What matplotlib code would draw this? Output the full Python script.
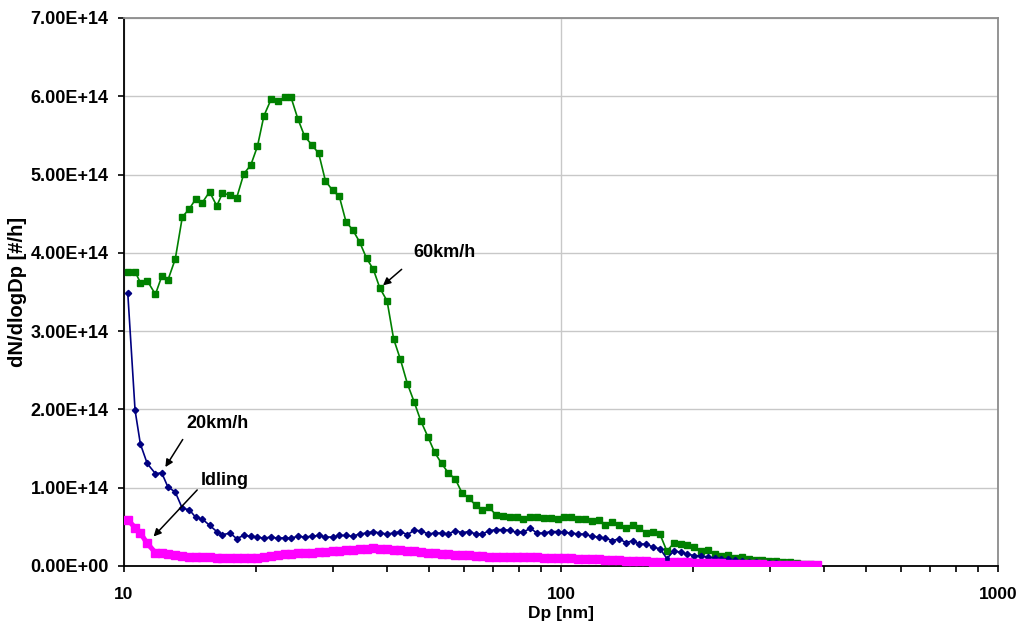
import numpy as np
import matplotlib
matplotlib.use('Agg')
from matplotlib import pyplot as plt
from matplotlib.ticker import FuncFormatter, LogLocator, NullFormatter, FixedLocator

# SMPS channel midpoints, 64 channels per decade [nm]
dp = [10.2, 10.6, 10.9, 11.3, 11.8, 12.2, 12.6, 13.1, 13.6, 14.1,
      14.6, 15.1, 15.7, 16.3, 16.8, 17.5, 18.1, 18.8, 19.5, 20.2,
      20.9, 21.7, 22.5, 23.3, 24.1, 25.0, 25.9, 26.9, 27.9, 28.9,
      30.0, 31.1, 32.2, 33.4, 34.6, 35.9, 37.2, 38.5, 40.0, 41.4,
      42.9, 44.5, 46.1, 47.8, 49.6, 51.4, 53.3, 55.2, 57.3, 59.4,
      61.5, 63.8, 66.1, 68.5, 71.0, 73.7, 76.4, 79.1, 82.0, 85.1,
      88.2, 91.4, 94.7, 98.2, 101.8, 105.5, 109.4, 113.4, 117.6, 121.9,
      126.3, 131.0, 135.8, 140.7, 145.9, 151.2, 156.8, 162.5, 168.5, 174.7,
      181.1, 187.7, 194.6, 201.7, 209.1, 216.7, 224.7, 232.9, 241.4, 250.3,
      259.5, 269.0, 278.8, 289.0, 299.6, 310.6, 322.0, 333.8, 346.0, 358.7,
      371.8, 385.4]

# dN/dlogDp in units of 1e14 #/h
v60 = [3.76, 3.76, 3.62, 3.645, 3.47, 3.70, 3.65, 3.92, 4.46, 4.56,
       4.69, 4.64, 4.78, 4.60, 4.76, 4.74, 4.70, 5.01, 5.12, 5.36,
       5.75, 5.96, 5.94, 5.99, 5.99, 5.71, 5.49, 5.38, 5.27, 4.92,
       4.80, 4.72, 4.40, 4.29, 4.14, 3.93, 3.79, 3.55, 3.385, 2.90,
       2.64, 2.33, 2.10, 1.85, 1.65, 1.45, 1.31, 1.19, 1.11, 0.93,
       0.87, 0.775, 0.715, 0.75, 0.65, 0.64, 0.62, 0.63, 0.60, 0.63,
       0.63, 0.61, 0.61, 0.60, 0.63, 0.63, 0.60, 0.60, 0.575, 0.59,
       0.53, 0.56, 0.53, 0.49, 0.53, 0.48, 0.425, 0.44, 0.405, 0.19,
       0.29, 0.285, 0.265, 0.24, 0.195, 0.20, 0.15, 0.13, 0.14, 0.10,
       0.115, 0.09, 0.08, 0.077, 0.068, 0.06, 0.055, 0.045, 0.035, 0.025,
       0.02, 0.015]

v20 = [3.49, 1.99, 1.56, 1.31, 1.18, 1.19, 1.01, 0.945, 0.735, 0.72,
       0.62, 0.60, 0.52, 0.44, 0.40, 0.42, 0.35, 0.39, 0.38, 0.37,
       0.355, 0.37, 0.355, 0.36, 0.355, 0.38, 0.37, 0.38, 0.39, 0.37,
       0.37, 0.39, 0.39, 0.38, 0.41, 0.42, 0.44, 0.42, 0.41, 0.42,
       0.44, 0.40, 0.455, 0.45, 0.41, 0.42, 0.42, 0.41, 0.45, 0.425,
       0.44, 0.41, 0.41, 0.45, 0.465, 0.465, 0.455, 0.43, 0.435, 0.48,
       0.42, 0.42, 0.44, 0.44, 0.43, 0.42, 0.41, 0.405, 0.38, 0.37,
       0.355, 0.325, 0.345, 0.30, 0.32, 0.28, 0.28, 0.24, 0.22, 0.095,
       0.19, 0.178, 0.152, 0.133, 0.13, 0.115, 0.10, 0.093, 0.09, 0.073,
       0.065, 0.057, 0.05, 0.043, 0.037, 0.032, 0.027, 0.022, 0.018, 0.014,
       0.011, 0.008]

vidle = [0.59, 0.49, 0.42, 0.29, 0.17, 0.16, 0.15, 0.14, 0.13, 0.12,
         0.115, 0.11, 0.11, 0.105, 0.10, 0.10, 0.097, 0.10, 0.10, 0.105,
         0.115, 0.125, 0.14, 0.15, 0.155, 0.16, 0.165, 0.17, 0.18, 0.185,
         0.19, 0.195, 0.20, 0.21, 0.215, 0.22, 0.225, 0.22, 0.215, 0.21,
         0.20, 0.195, 0.19, 0.18, 0.17, 0.165, 0.155, 0.15, 0.145, 0.14,
         0.135, 0.13, 0.125, 0.12, 0.12, 0.115, 0.115, 0.11, 0.11, 0.11,
         0.11, 0.105, 0.105, 0.10, 0.10, 0.10, 0.095, 0.09, 0.09, 0.085,
         0.08, 0.08, 0.075, 0.07, 0.07, 0.065, 0.06, 0.055, 0.05, 0.015,
         0.05, 0.045, 0.045, 0.04, 0.04, 0.038, 0.035, 0.033, 0.03, 0.028,
         0.026, 0.024, 0.022, 0.02, 0.018, 0.016, 0.015, 0.014, 0.012, 0.011,
         0.01, 0.01]

scale = 1e14
dp = np.array(dp)
y60 = np.array(v60) * scale
y20 = np.array(v20) * scale
yidle = np.array(vidle) * scale

FONT = 'Liberation Sans'

fig = plt.figure(figsize=(10.17, 6.21), dpi=100)
ax = fig.add_axes([124 / 1017, 55 / 621, 874 / 1017, 548 / 621])

ax.plot(dp, y60, color='#008000', lw=1.2, marker='s', ms=4.3, zorder=3)
ax.plot(dp, y20, color='#000080', lw=1.2, marker='D', ms=3.2, zorder=4)
ax.plot(dp, yidle, color='#FF00FF', lw=3.6, marker='s', ms=5.8, zorder=5)

ax.set_xscale('log')
ax.set_xlim(10, 1000)
ax.set_ylim(0, 7e14)
ax.set_yticks(np.arange(0, 7.01e14, 1e14))
ax.yaxis.set_major_formatter(FuncFormatter(lambda v, p: '%.2E' % v))
ax.xaxis.set_major_locator(FixedLocator([10, 100, 1000]))
ax.xaxis.set_major_formatter(FuncFormatter(lambda v, p: '%d' % v))
ax.xaxis.set_minor_locator(LogLocator(base=10, subs=np.arange(2, 10)))
ax.xaxis.set_minor_formatter(NullFormatter())

ax.grid(axis='y', color='#c8c8c8', lw=1)
ax.grid(axis='x', which='major', color='#c8c8c8', lw=1)
ax.set_axisbelow(True)

for s in ['left', 'bottom']:
    ax.spines[s].set_color('black')
    ax.spines[s].set_linewidth(1.3)
for s in ['top', 'right']:
    ax.spines[s].set_color('#8c8c8c')
    ax.spines[s].set_linewidth(1.3)

ax.tick_params(axis='x', which='both', direction='out', length=4, width=1.2,
               pad=11)
ax.tick_params(axis='y', direction='out', length=4, width=1.2, pad=7)
for lab in ax.get_xticklabels():
    lab.set_fontfamily(FONT)
    lab.set_fontweight('bold')
    lab.set_fontsize(12.5)
for lab in ax.get_yticklabels():
    lab.set_fontfamily(FONT)
    lab.set_fontweight('bold')
    lab.set_fontsize(13)

ax.set_xlabel('Dp [nm]', family=FONT, weight='bold', fontsize=12.5, va='center')
ax.xaxis.set_label_coords(0.5, -0.086)
ax.set_ylabel('dN/dlogDp [#/h]', family=FONT, weight='bold', fontsize=14.5,
              va='center')
ax.yaxis.set_label_coords(-0.1224, 0.5)

# labelled arrows pointing at the curves
arrow = dict(arrowstyle='-|>', color='black', lw=1.1, mutation_scale=11,
             shrinkA=0)
notes = [('60km/h', dp[37], y60[37], (15.7, 13.5), 3.0, (24.5, 22.3)),
         ('20km/h', dp[5], y20[5], (15.1, 24.0), 4.9, (17.6, 32.0)),
         ('Idling', dp[3], yidle[3], (36.0, 38.4), 6.7, (38.4, 41.8))]
for txt, x, y, tail, gap, toff in notes:
    ax.annotate('', xy=(x, y), xytext=tail, textcoords='offset points',
                arrowprops=dict(arrow, shrinkB=gap), zorder=6)
    ax.annotate(txt, xy=(x, y), xytext=toff, textcoords='offset points',
                ha='left', va='baseline', family=FONT, weight='bold',
                fontsize=13, zorder=6)

fig.savefig('out.png', dpi=100)
